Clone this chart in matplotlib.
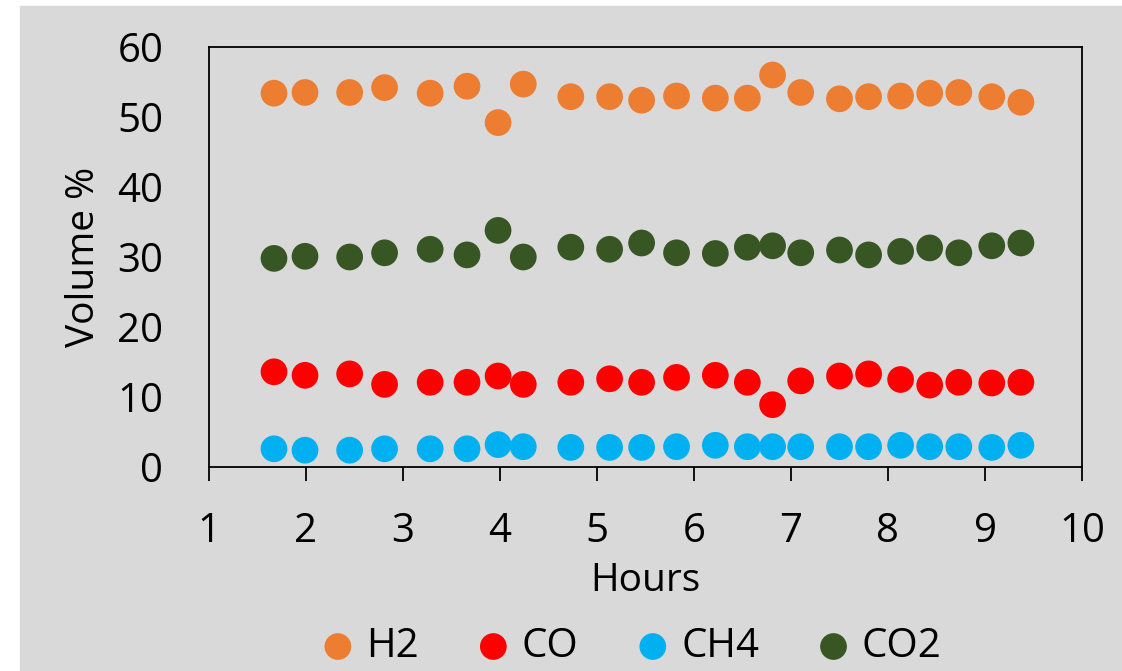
import matplotlib.pyplot as plt
from matplotlib.patches import Rectangle

hours = [1.67, 1.99, 2.45, 2.81, 3.28, 3.66, 3.98, 4.24, 4.73, 5.13, 5.46, 5.82,
         6.22, 6.55, 6.81, 7.10, 7.50, 7.80, 8.13, 8.43, 8.73, 9.07, 9.37]
h2 = [53.4, 53.5, 53.5, 54.2, 53.4, 54.4, 49.2, 54.7, 52.9, 52.9, 52.4, 53.0,
      52.7, 52.7, 56.0, 53.5, 52.6, 52.9, 53.0, 53.4, 53.5, 52.9, 52.1]
co = [13.6, 13.1, 13.3, 11.8, 12.1, 12.1, 13.0, 11.8, 12.1, 12.6, 12.1, 12.8,
      13.1, 12.1, 8.9, 12.3, 13.0, 13.3, 12.5, 11.7, 12.1, 12.0, 12.1]
ch4 = [2.6, 2.4, 2.4, 2.6, 2.6, 2.6, 3.2, 2.9, 2.8, 2.8, 2.8, 2.9,
       3.1, 2.9, 2.9, 2.9, 2.9, 2.9, 3.1, 2.9, 2.9, 2.8, 3.1]
co2 = [29.8, 30.1, 30.0, 30.6, 31.1, 30.3, 33.8, 30.0, 31.4, 31.1, 32.0, 30.6,
       30.5, 31.4, 31.6, 30.6, 31.0, 30.3, 30.8, 31.3, 30.6, 31.6, 32.0]

series = [("H2", h2, "#ED7D31"), ("CO", co, "#FF0000"),
          ("CH4", ch4, "#00B0F0"), ("CO2", co2, "#375623")]

plt.rcParams['font.family'] = ['Open Sans', 'DejaVu Sans']
bg = "#d9d9d9"

fig = plt.figure(figsize=(11.22, 6.71), dpi=100)
fig.patch.set_facecolor("white")
fig.patches.append(Rectangle((20 / 1122, 0), 1 - 20 / 1122, 665 / 671,
                             transform=fig.transFigure, color=bg, zorder=-10))

ax = fig.add_axes([209 / 1122, 1 - 467 / 671, 873 / 1122, 420 / 671])
ax.set_facecolor(bg)

for name, vals, col in series:
    ax.scatter(hours, vals, s=370, color=col, edgecolors="none", label=name,
               zorder=3, clip_on=False)

ax.set_xlim(1, 10)
ax.set_ylim(0, 60)
ax.set_xticks(range(1, 11))
ax.set_yticks(range(0, 61, 10))
for sp in ax.spines.values():
    sp.set_linewidth(1.3)
    sp.set_color("black")
ax.tick_params(axis="x", direction="out", length=10, width=1.3, labelsize=29, pad=22)
ax.tick_params(axis="y", length=0, labelsize=29, pad=33)

ax.set_xlabel("Hours", fontsize=28, labelpad=7)
ax.set_ylabel("Volume %", fontsize=28, labelpad=10)

leg = fig.legend(loc="center", bbox_to_anchor=(0.563, 0.036), ncol=4,
                 frameon=False, fontsize=29, handletextpad=0.3,
                 columnspacing=1.45, handlelength=0.8, markerscale=1.0,
                 borderpad=0)

fig.savefig("out.png", dpi=100, facecolor=fig.get_facecolor())
